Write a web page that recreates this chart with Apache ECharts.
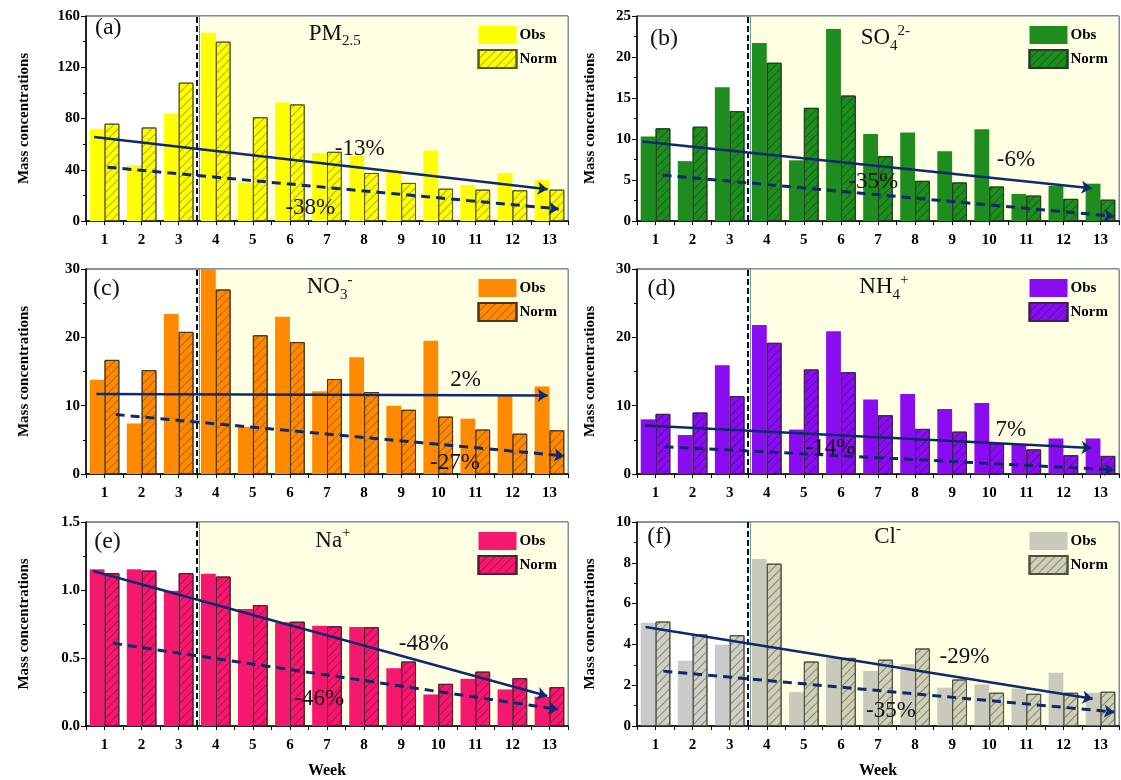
<!DOCTYPE html>
<html><head><meta charset="utf-8">
<script src="https://cdn.jsdelivr.net/npm/echarts@6/dist/echarts.min.js"></script>
<style>html,body{margin:0;padding:0;background:#fff}#c{width:1121px;height:780px}</style>
</head><body><div id="c"></div>
<script>
// ---------- data ----------
const weeks = ['1','2','3','4','5','6','7','8','9','10','11','12','13'];

const pm25Obs  = [72, 43.5, 84, 147, 30, 92.5, 53, 51, 39.5, 55, 28, 37.5, 32];
const pm25Norm = [76, 73, 108, 140, 81, 91, 54, 37.5, 29.7, 25.2, 24.5, 24, 24.5];
const so4Obs   = [10.3, 7.3, 16.3, 21.7, 7.4, 23.4, 10.6, 10.8, 8.5, 11.2, 3.3, 4.3, 4.55];
const so4Norm  = [11.3, 11.5, 13.4, 19.3, 13.8, 15.3, 7.9, 4.9, 4.7, 4.2, 3.1, 2.7, 2.6];
const no3Obs   = [13.8, 7.4, 23.4, 30, 6.9, 23, 12.1, 17.1, 10, 19.5, 8.1, 11.4, 12.8];
const no3Norm  = [16.7, 15.2, 20.8, 27, 20.3, 19.3, 13.9, 12, 9.4, 8.4, 6.5, 5.9, 6.4];
const nh4Obs   = [8, 5.7, 15.9, 21.8, 6.5, 20.9, 10.9, 11.7, 9.5, 10.4, 4.3, 5.2, 5.2];
const nh4Norm  = [8.8, 9, 11.4, 19.2, 15.3, 14.9, 8.6, 6.6, 6.2, 4.5, 3.6, 2.75, 2.65];
const naObs    = [1.153, 1.153, 0.994, 1.119, 0.86, 0.762, 0.738, 0.728, 0.425, 0.232, 0.347, 0.269, 0.215];
const naNorm   = [1.124, 1.143, 1.124, 1.099, 0.889, 0.767, 0.733, 0.726, 0.474, 0.31, 0.4, 0.352, 0.286];
const clObs    = [5.06, 3.2, 3.98, 8.19, 1.66, 3.34, 2.7, 3.03, 1.88, 2.04, 1.83, 2.61, 1.63];
const clNorm   = [5.12, 4.49, 4.45, 7.96, 3.16, 3.34, 3.25, 3.8, 2.28, 1.63, 1.58, 1.63, 1.68];

// trend arrows: [[startWeek, startValue], [endWeek, endValue]]
const pm25TrendObs  = [[0.72, 65.5], [12.95, 24.7]];
const pm25TrendNorm = [[1.08, 42], [13.25, 9.4]];
const so4TrendObs   = [[0.64, 9.7], [12.76, 4.0]];
const so4TrendNorm  = [[1.19, 5.6], [13.37, 0.57]];
const no3TrendObs   = [[0.78, 11.7], [12.95, 11.5]];
const no3TrendNorm  = [[1.3, 8.7], [13.4, 2.65]];
const nh4TrendObs   = [[0.71, 7.1], [12.76, 3.8]];
const nh4TrendNorm  = [[1.24, 4.0], [13.37, 0.6]];
const naTrendObs    = [[0.69, 1.14], [12.94, 0.22]];
const naTrendNorm   = [[1.23, 0.608], [13.24, 0.122]];
const clTrendObs    = [[0.73, 4.85], [12.79, 1.34]];
const clTrendNorm   = [[1.21, 2.69], [13.37, 0.69]];

// change labels [obs trend, norm trend]
const pm25Pct = ['-13%', '-38%'];
const so4Pct  = ['-6%', '-35%'];
const no3Pct  = ['2%', '-27%'];
const nh4Pct  = ['7%', '-14%'];
const naPct   = ['-48%', '-46%'];
const clPct   = ['-29%', '-35%'];

const yTicksMax = [160, 25, 30, 30, 1.5, 10];
const yTicksInterval = [40, 5, 10, 10, 0.5, 2];
const splitWeek = 3.5;

// ---------- layout / style ----------
const FONT = 'Liberation Serif, Times New Roman, serif';
const panels = [
  {id:'a', tag:'(a)', title:'PM{sub|2.5}', obs:pm25Obs, norm:pm25Norm, tObs:pm25TrendObs, tNorm:pm25TrendNorm, pct:pm25Pct,
   color:'#FFFF00', normColor:'#FFFF00', hatch:'rgba(110,110,0,0.55)', border:'#5a5a20',
   tagPos:[1.1,151], titlePos:[7.21,146], pctPos:[[7.88,56.4],[6.55,10.4]]},
  {id:'b', tag:'(b)', title:'SO{sub|4}{sup|2-}', obs:so4Obs, norm:so4Norm, tObs:so4TrendObs, tNorm:so4TrendNorm, pct:so4Pct,
   color:'#1E8C1E', normColor:'#1E8C1E', hatch:'rgba(0,60,0,0.45)', border:'#1f401f',
   tagPos:[1.23,22.2], titlePos:[7.2,22.3], pctPos:[[10.72,7.5],[6.87,4.75]]},
  {id:'c', tag:'(c)', title:'NO{sub|3}{sup|-}', obs:no3Obs, norm:no3Norm, tObs:no3TrendObs, tNorm:no3TrendNorm, pct:no3Pct,
   color:'#FF8A00', normColor:'#FF8A00', hatch:'rgba(120,60,0,0.5)', border:'#503515',
   tagPos:[1.05,27.1], titlePos:[7.07,27.3], pctPos:[[10.74,13.7],[10.45,1.67]]},
  {id:'d', tag:'(d)', title:'NH{sub|4}{sup|+}', obs:nh4Obs, norm:nh4Norm, tObs:nh4TrendObs, tNorm:nh4TrendNorm, pct:nh4Pct,
   color:'#8A0DF2', normColor:'#8A0DF2', hatch:'rgba(50,0,90,0.45)', border:'#3f2050',
   tagPos:[1.16,27.1], titlePos:[7.16,27.3], pctPos:[[10.58,6.47],[5.72,3.87]]},
  {id:'e', tag:'(e)', title:'Na{sup|+}', obs:naObs, norm:naNorm, tObs:naTrendObs, tNorm:naTrendNorm, pct:naPct,
   color:'#F5186F', normColor:'#F5186F', hatch:'rgba(110,0,35,0.45)', border:'#502030',
   tagPos:[1.08,1.355], titlePos:[7.16,1.36], pctPos:[[9.61,0.603],[6.79,0.2]]},
  {id:'f', tag:'(f)', title:'Cl{sup|-}', obs:clObs, norm:clNorm, tObs:clTrendObs, tNorm:clTrendNorm, pct:clPct,
   color:'rgba(150,150,150,0.5)', normColor:'rgba(160,160,140,0.5)', hatch:'rgba(60,60,40,0.5)', border:'#505040',
   tagPos:[1.1,9.3], titlePos:[7.26,9.27], pctPos:[[9.33,3.39],[7.35,0.73]]}
];

const gridLeft = [86, 637], gridTop = [16, 269, 522], gridW = 482, gridH = 205;
const yNameGap = [54, 39];
const TREND = '#0e2a6c';

const grids = [], xAxes = [], yAxes = [], series = [], legends = [];
panels.forEach((p, i) => {
  const col = i % 2, row = Math.floor(i / 2);
  const left = gridLeft[col], top = gridTop[row];
  grids.push({left: left, top: top, width: gridW, height: gridH, show: true, borderColor: '#222', borderWidth: 1, backgroundColor: 'transparent'});
  const bottomRow = row === 2;
  xAxes.push({
    type: 'category', gridIndex: i, data: weeks, position: 'bottom',
    axisLine: {lineStyle: {color: '#000', width: 1.5}},
    axisTick: {show: false},
    axisLabel: {color: '#000', fontFamily: FONT, fontWeight: 'bold', fontSize: 15, margin: 12},
    name: bottomRow ? 'Week' : '', nameLocation: 'middle', nameGap: 37,
    nameTextStyle: {color: '#000', fontFamily: FONT, fontWeight: 'bold', fontSize: 16}
  });
  xAxes.push({
    type: 'value', gridIndex: i, min: 0.5, max: 13.5, interval: 0.5, position: 'bottom',
    axisLine: {show: false}, axisLabel: {show: false}, splitLine: {show: false},
    axisTick: {show: true, length: 4, lineStyle: {color: '#000', width: 1}}
  });
  yAxes.push({
    type: 'value', gridIndex: i, min: 0, max: yTicksMax[i], interval: yTicksInterval[i],
    axisLine: {show: true, lineStyle: {color: '#000', width: 1.5}},
    axisTick: {show: true, length: 5, lineStyle: {color: '#000', width: 1}},
    minorTick: {show: true, splitNumber: 2, length: 3, lineStyle: {color: '#000', width: 1}},
    splitLine: {show: false},
    axisLabel: {color: '#000', fontFamily: FONT, fontWeight: 'bold', fontSize: 15, margin: 6,
      formatter: v => (yTicksInterval[i] < 1 ? v.toFixed(1) : String(v))},
    name: 'Mass concentrations', nameLocation: 'middle', nameGap: yNameGap[col],
    nameTextStyle: {color: '#000', fontFamily: FONT, fontWeight: 'bold', fontSize: 15}
  });
  const xCat = 2 * i, xVal = 2 * i + 1;

  // background shading + split line
  series.push({
    type: 'line', xAxisIndex: xVal, yAxisIndex: i, data: [], z: 0, silent: true,
    markArea: {silent: true, z: 0,
      itemStyle: {color: '#FFFFE3', borderColor: '#6d8ea3', borderWidth: 1},
      data: [[{coord: [splitWeek + 0.06, 0]}, {coord: [13.5, yTicksMax[i]]}]]},
    markLine: {silent: true, symbol: 'none', label: {show: false},
      lineStyle: {color: '#111', type: [6, 3], width: 2},
      data: [[{coord: [splitWeek, 0]}, {coord: [splitWeek, yTicksMax[i]]}]]}
  });

  const decal = {symbol: 'rect', symbolSize: 1, dashArrayX: [1, 0], dashArrayY: [1, 4.5], rotation: -Math.PI / 4, color: p.hatch};
  series.push({
    type: 'bar', name: 'Obs_' + p.id, xAxisIndex: xCat, yAxisIndex: i, data: p.obs, z: 2,
    barGap: '0%', barCategoryGap: '20%',
    itemStyle: {color: p.color, borderWidth: 0}
  });
  series.push({
    type: 'bar', name: 'Norm_' + p.id, xAxisIndex: xCat, yAxisIndex: i, data: p.norm, z: 2,
    barGap: '0%', barCategoryGap: '20%',
    itemStyle: {color: p.normColor, borderColor: p.border, borderWidth: 1, decal: decal}
  });

  // trends + annotations
  const rich = {
    base: {fontFamily: FONT, fontSize: 23, color: '#111', lineHeight: 30},
    sub: {fontFamily: FONT, fontSize: 15, color: '#111', verticalAlign: 'bottom', lineHeight: 30},
    sup: {fontFamily: FONT, fontSize: 15, color: '#111', verticalAlign: 'top', lineHeight: 30}
  };
  const titleText = '{base|' + p.title.replace(/\{(sub|sup)\|([^}]*)\}/g, '}{$1|$2}{base|') + '}';
  const mp = (pos, text, richOn, size) => ({
    coord: pos, symbol: 'rect', symbolSize: 0,
    label: {show: true, position: 'inside', formatter: text, color: '#111', fontFamily: FONT, fontSize: size || 23, rich: richOn ? rich : undefined}
  });
  series.push({
    type: 'line', xAxisIndex: xVal, yAxisIndex: i, data: [], z: 5, silent: true,
    markLine: {silent: true, symbol: ['none', 'arrow'], symbolSize: 10, label: {show: false},
      data: [
        [{coord: p.tObs[0], lineStyle: {color: TREND, width: 2.5, type: 'solid'}}, {coord: p.tObs[1]}],
        [{coord: p.tNorm[0], lineStyle: {color: TREND, width: 3, type: [9, 6]}}, {coord: p.tNorm[1]}]
      ]},
    markPoint: {silent: true, data: [
      mp(p.tagPos, p.tag, false, 24),
      mp(p.titlePos, titleText, true),
      mp(p.pctPos[0], p.pct[0], false),
      mp(p.pctPos[1], p.pct[1], false)
    ]}
  });

  legends.push({
    data: ['Obs_' + p.id, 'Norm_' + p.id], orient: 'vertical', icon: 'rect',
    right: 1121 - (left + gridW - 6), top: top + 5,
    itemWidth: 38, itemHeight: 18, itemGap: 5, selectedMode: false,
    formatter: n => n.split('_')[0],
    textStyle: {color: '#000', fontFamily: FONT, fontWeight: 'bold', fontSize: 15, padding: [0, 0, 0, -2]}
  });
});

const chart = echarts.init(document.getElementById('c'), null, {renderer: 'canvas'});
chart.setOption({
  animation: false,
  backgroundColor: '#fff',
  grid: grids, xAxis: xAxes, yAxis: yAxes, legend: legends, series: series
});
</script>
</body></html>
